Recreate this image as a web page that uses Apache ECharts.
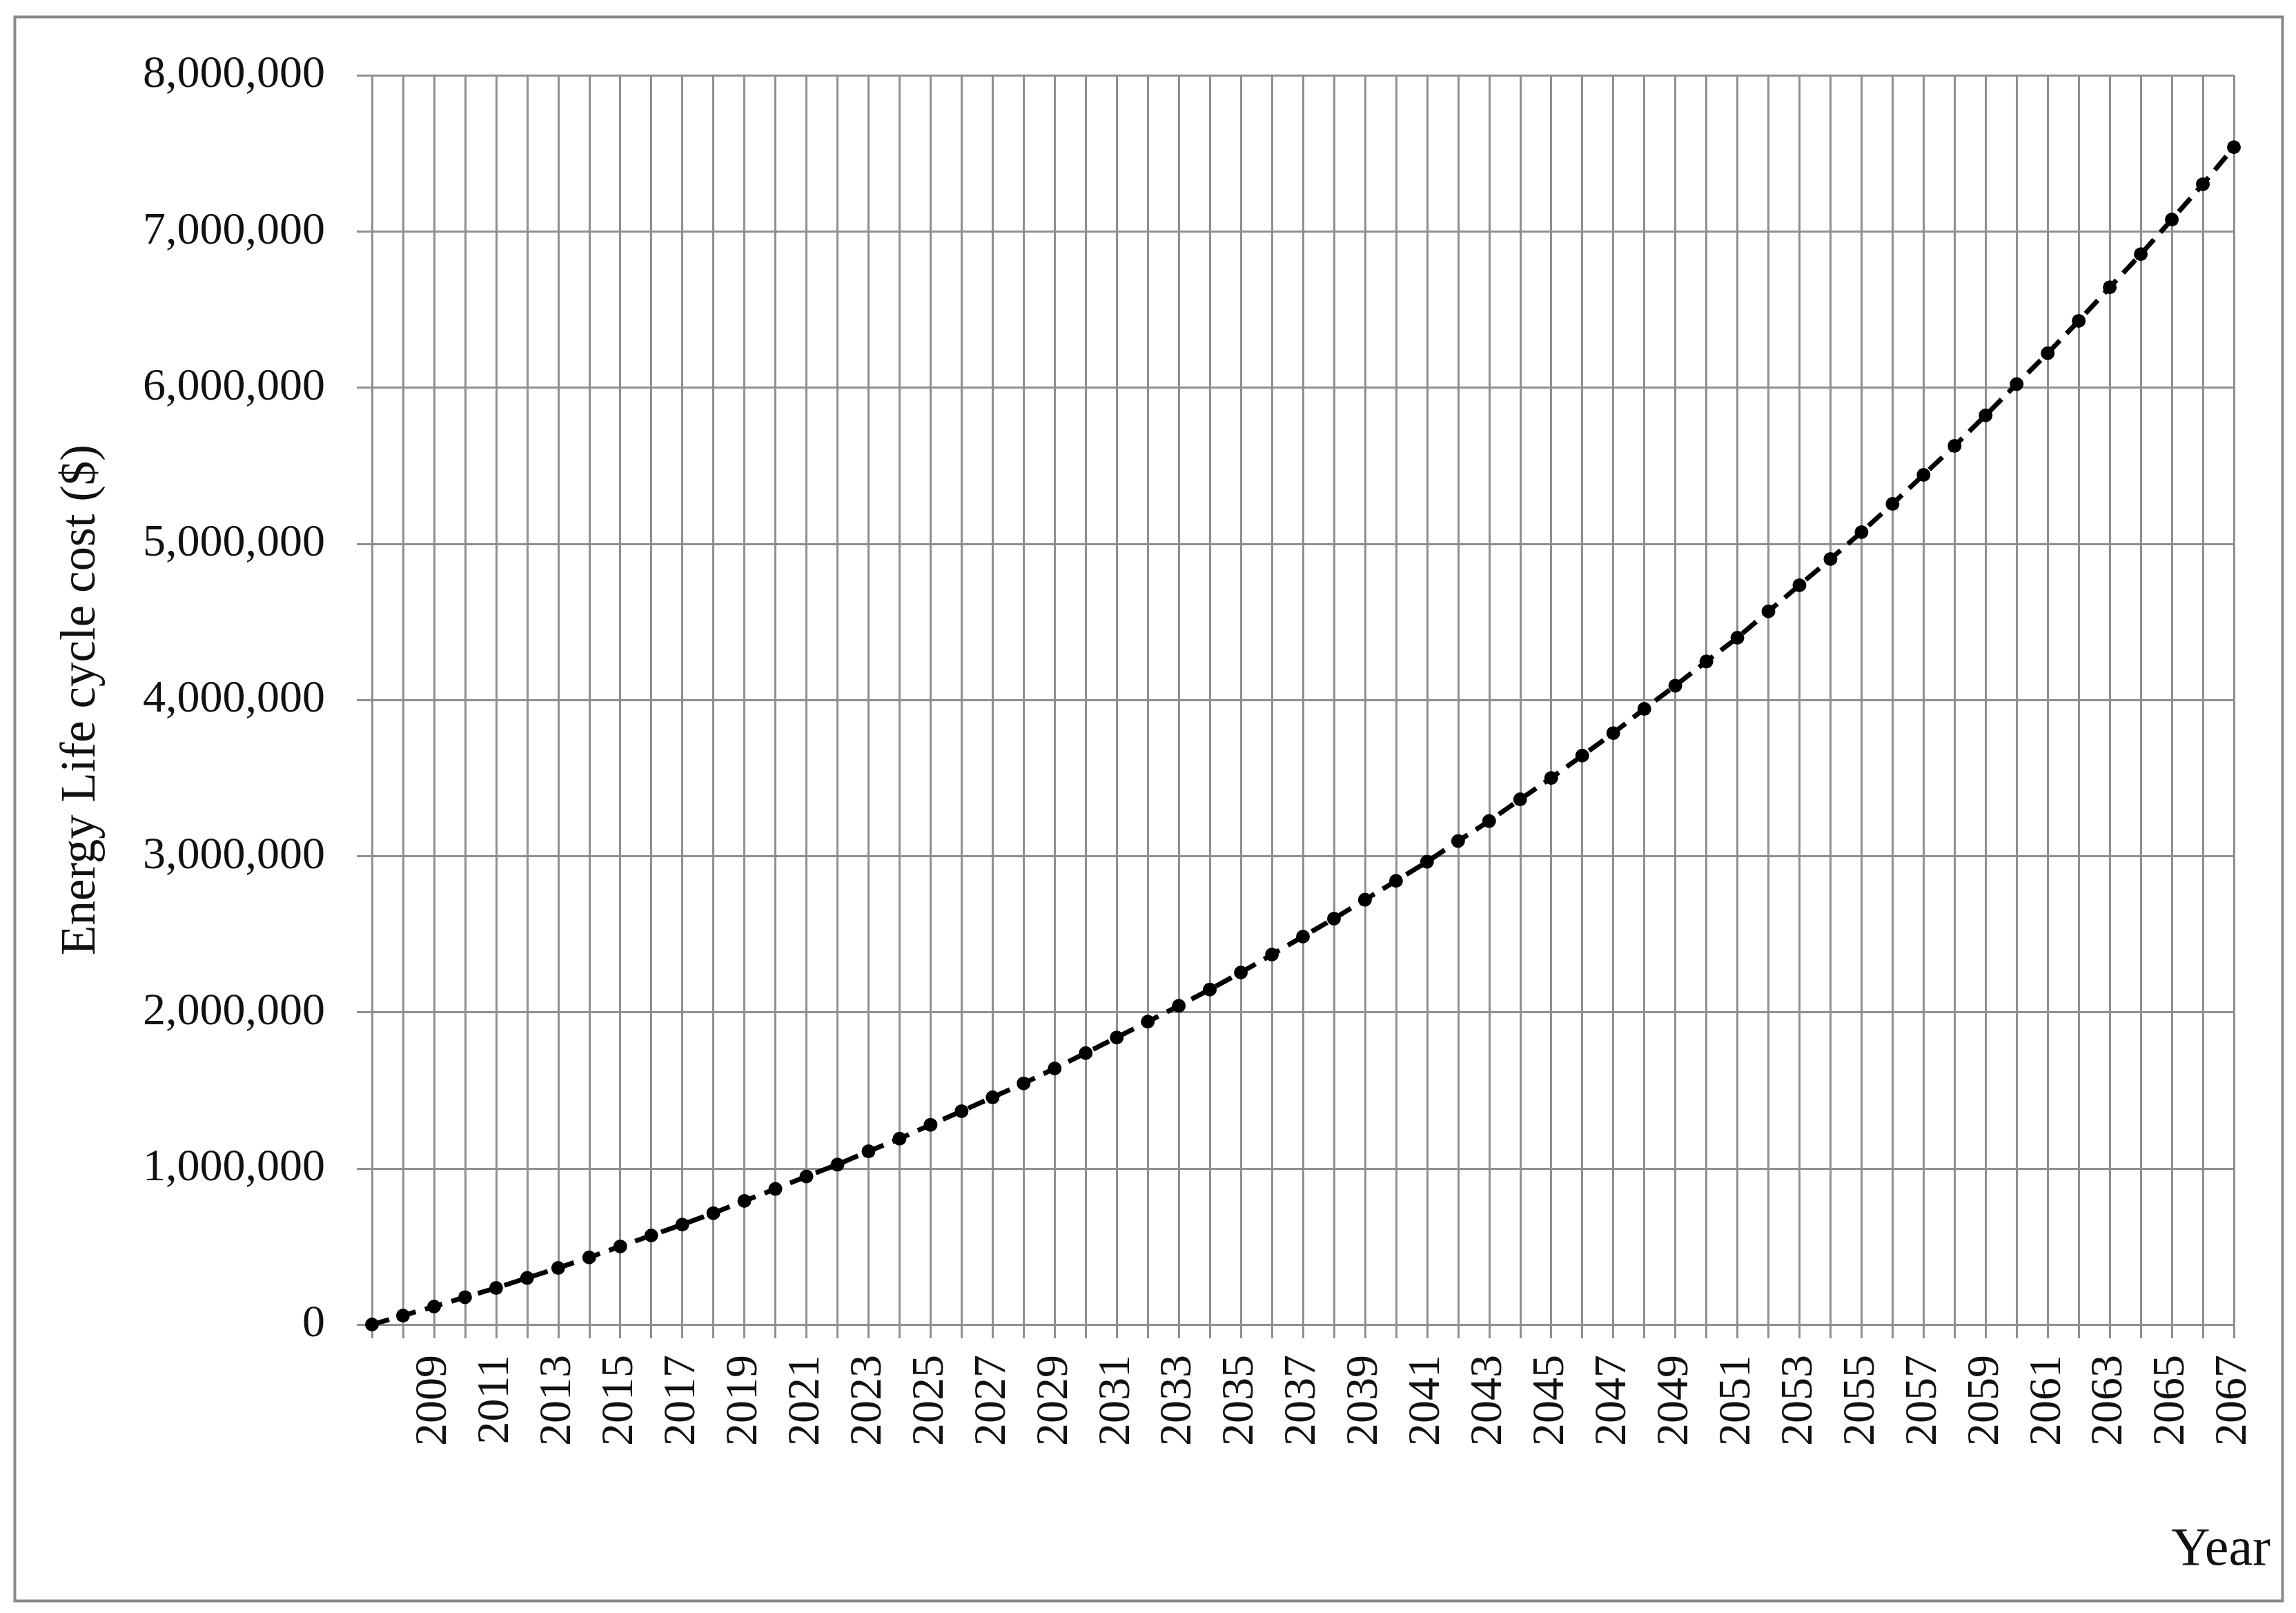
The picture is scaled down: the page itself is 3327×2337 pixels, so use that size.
<!DOCTYPE html>
<html>
<head>
<meta charset="utf-8">
<style>
  html, body { margin: 0; padding: 0; background: #ffffff; }
  #chart { width: 3327px; height: 2337px; }
</style>
<script src="https://cdn.jsdelivr.net/npm/echarts@6/dist/echarts.min.js"></script>
</head>
<body>
<div id="chart"></div>
<script>
// years on the category axis
const years = [];
for (let y = 2007; y <= 2067; y++) years.push(String(y));

// energy life cycle cost ($)
const lifeCycleCost = [
  0, 57000, 115000, 175000, 234000, 298000, 362000, 430000, 500000, 570000,
  640000, 713000, 791000, 868000, 948000, 1024000, 1109000, 1190000, 1279000, 1366000,
  1455000, 1544000, 1640000, 1738000, 1838000, 1939000, 2041000, 2145000, 2254000, 2369000,
  2484000, 2599000, 2720000, 2841000, 2963000, 3096000, 3224000, 3363000, 3500000, 3643000,
  3787000, 3942000, 4091000, 4246000, 4398000, 4567000, 4734000, 4902000, 5074000, 5255000,
  5441000, 5627000, 5822000, 6022000, 6220000, 6427000, 6642000, 6854000, 7076000, 7302000,
  7539000
];

// y axis ticks
const yMin = 0;
const yMax = 8000000;
const yStep = 1000000;

const font = 'Liberation Serif';
const gridColor = '#8f8f8f';

const chart = echarts.init(document.getElementById('chart'));

const option = {
  backgroundColor: '#ffffff',
  animation: false,
  grid: {
    left: 539,
    right: 90,
    top: 109,
    bottom: 418
  },
  graphic: [
    {
      type: 'rect',
      left: 19,
      top: 22,
      shape: { width: 3286, height: 2295 },
      style: { fill: 'none', stroke: '#8a8a8a', lineWidth: 4 },
      z: -1
    },
    {
      type: 'text',
      right: 3327 - 3290,
      top: 2208,
      style: { text: 'Year', font: '78px "Liberation Serif"', fill: '#111' }
    }
  ],
  xAxis: {
    type: 'category',
    data: years,
    boundaryGap: false,
    axisLine: { show: true, lineStyle: { color: gridColor, width: 3 } },
    axisTick: { show: true, interval: 0, length: 20, lineStyle: { color: gridColor, width: 3 } },
    axisLabel: {
      interval: (i) => i > 0 && i % 2 === 0,
      rotate: 90,
      margin: 44,
      fontFamily: font,
      fontSize: 66,
      color: '#111'
    },
    splitLine: { show: true, interval: 0, lineStyle: { color: gridColor, width: 3 } }
  },
  yAxis: {
    type: 'value',
    min: yMin,
    max: yMax,
    interval: yStep,
    name: 'Energy Life cycle cost ($)',
    nameLocation: 'middle',
    nameGap: 385,
    nameTextStyle: { fontFamily: font, fontSize: 71, color: '#111' },
    axisLine: { show: false },
    axisTick: { show: true, length: 22, lineStyle: { color: gridColor, width: 3 } },
    axisLabel: {
      margin: 68,
      fontFamily: font,
      fontSize: 66,
      color: '#111',
      formatter: (v) => v.toLocaleString('en-US')
    },
    splitLine: { show: true, lineStyle: { color: gridColor, width: 3 } }
  },
  series: [
    {
      type: 'line',
      data: lifeCycleCost,
      symbol: 'circle',
      symbolSize: 20,
      itemStyle: { color: '#000' },
      lineStyle: { color: '#000', width: 7, type: [26, 14] },
      z: 5
    }
  ]
};

chart.setOption(option);
</script>
</body>
</html>
